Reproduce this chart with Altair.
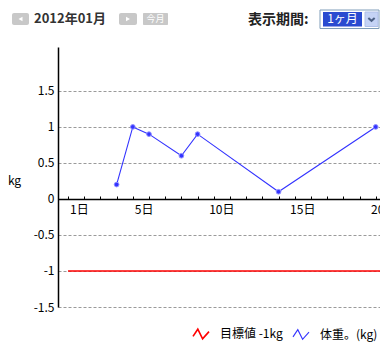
import altair as alt
import pandas as pd

FONT = "Noto Sans CJK JP"

# ---- data ----
weight_days = [3, 4, 5, 7, 8, 13, 19]
weight_values = [0.2, 1.0, 0.9, 0.6, 0.9, 0.1, 1.0]
target_days = [0, 31]
target_values = [-1, -1]
series_names = ["目標値 -1kg", "体重。(kg)"]
series_colors = ["#ff0000", "#3333ff"]
y_ticks = [-1.5, -1, -0.5, 0, 0.5, 1, 1.5]
x_label_days = [1, 5, 10, 15, 20]
x_tick_days = list(range(0, 32))
month_label = "2012年01月"
today_label = "今月"
period_label = "表示期間:"
period_value = "1ヶ月"

rows = [{"day": d, "kg": v, "series": series_names[0]} for d, v in zip(target_days, target_values)]
rows += [{"day": d, "kg": v, "series": series_names[1]} for d, v in zip(weight_days, weight_values)]
line_df = pd.DataFrame(rows)
weight_df = pd.DataFrame({"day": weight_days, "kg": weight_values})
one = pd.DataFrame({"k": [0]})

x_scale = alt.Scale(domain=[-0.62, 20.5], nice=False, zero=False)
y_scale = alt.Scale(domain=[-1.5, 2.11], nice=False, zero=False)

lines = alt.Chart(line_df).mark_line(clip=True).encode(
    x=alt.X("day:Q", scale=x_scale,
            axis=alt.Axis(orient="top", offset=-152, values=x_tick_days, labels=False,
                          domain=False, grid=False, ticks=True, tickSize=3,
                          tickColor="black", tickWidth=1, title=None)),
    y=alt.Y("kg:Q", scale=y_scale,
            axis=alt.Axis(orient="left", values=y_ticks, labelExpr="'' + datum.value",
                          grid=True, gridDash=[3, 2], gridColor="#9a9a9a", gridWidth=1,
                          ticks=False, tickSize=0, domain=True, domainColor="black",
                          domainWidth=1.5, labelPadding=4, labelFont=FONT, labelFontSize=12,
                          labelColor="black", title="kg", titleAngle=0, titleX=-44, titleY=133,
                          titleAlign="center", titleBaseline="middle", titleFont=FONT,
                          titleFontSize=12, titleFontWeight="normal", titleColor="black")),
    color=alt.Color("series:N", scale=alt.Scale(domain=series_names, range=series_colors),
                    sort=series_names,
                    legend=alt.Legend(title=None, orient="none", legendX=134, legendY=278,
                                      direction="horizontal",
                                      symbolType="M-1,0.3L-0.4,-0.6L0.2,0.6L1,-0.3",
                                      symbolSize=256, symbolStrokeWidth=1,
                                      symbolFillColor="transparent",
                                      labelFont=FONT, labelFontSize=12, labelColor="black",
                                      labelOffset=10, columnPadding=7)),
    strokeWidth=alt.StrokeWidth("series:N", scale=alt.Scale(domain=series_names, range=[1.6, 1.1]),
                                legend=None),
)

points = alt.Chart(weight_df).mark_point(filled=True, size=22, color="#3333ff", opacity=1,
                                         stroke="#8f8fff", strokeWidth=1).encode(
    x=alt.X("day:Q", scale=x_scale,
            axis=alt.Axis(orient="bottom", offset=-108, values=x_label_days,
                          labelExpr="datum.value + '日'", ticks=False, tickSize=0,
                          domain=True, domainColor="black", domainWidth=1.5, grid=False,
                          labelAlign="right", labelOffset=4, labelPadding=5, labelFont=FONT,
                          labelFontSize=12, labelColor="black", title=None)),
    y=alt.Y("kg:Q", scale=y_scale, axis=None),
)


def rect(x1, x2, y1, y2, fill, stroke=None, radius=0):
    kw = dict(fill=fill, cornerRadius=radius)
    if stroke:
        kw.update(stroke=stroke, strokeWidth=1)
    return alt.Chart(one).mark_rect(**kw).encode(
        x=alt.value(x1), x2=alt.value(x2), y=alt.value(y1), y2=alt.value(y2))


def text(x, y, s, size=12, color="black", weight="normal", align="left"):
    return alt.Chart(one).mark_text(font=FONT, fontSize=size, color=color, fontWeight=weight,
                                    align=align, baseline="middle").encode(
        x=alt.value(x), y=alt.value(y), text=alt.value(s))


def shape(x, y, path, size, color, filled=True, sw=1):
    return alt.Chart(one).mark_point(shape=path, size=size, filled=filled, color=color,
                                     opacity=1, strokeWidth=sw).encode(
        x=alt.value(x), y=alt.value(y))


header = [
    rect(-46, -29, -34, -22, "#c8c8c8", radius=2),
    shape(-37.5, -28, "triangle-left", 22, "white"),
    text(-24, -28, month_label, size=13, color="#333333", weight="bold"),
    rect(61, 79, -34, -22, "#c8c8c8", radius=2),
    shape(70, -28, "triangle-right", 22, "white"),
    rect(85, 110, -34, -22, "#c8c8c8", radius=1),
    text(97.5, -28, today_label, size=9, color="white", align="center"),
    text(190, -27.5, period_label, size=14, color="#222222", weight="bold"),
    rect(262, 321, -37, -18.5, "white", stroke="#7f9db9"),
    rect(265, 304, -35, -20.5, "#2a4bd0"),
    text(284.5, -27.75, period_value, size=12, color="white", align="center"),
    rect(307, 320, -35, -20.5, "#c5d3f5", stroke="#b0c0e8"),
    shape(313.5, -27.75, "M-1,-0.4L0,0.5L1,-0.4", 40, "#4d6185", filled=False, sw=2),
]

chart = alt.layer(lines, points, *header).resolve_axis(
    x="independent", y="independent"
).properties(
    width=342, height=260,
    autosize=alt.AutoSizeParams(type="none"),
    padding={"left": 50, "top": 39, "right": -20, "bottom": 48},
    background="white",
).configure_view(stroke=None)

chart.save("out.html", embed_options={"renderer": "svg", "actions": False})
